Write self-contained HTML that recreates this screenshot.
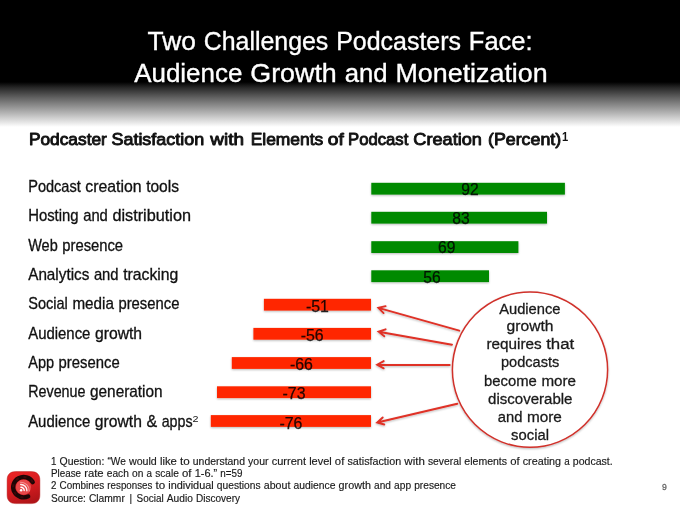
<!DOCTYPE html>
<html lang="en"><head><meta charset="utf-8"><title>Two Challenges Podcasters Face</title>
<style>html,body{margin:0;padding:0;background:#fff;overflow:hidden}svg{display:block}text{font-family:"Liberation Sans", "DejaVu Sans", sans-serif}</style>
</head><body>
<svg width="680" height="510" viewBox="0 0 680 510">
<defs>
<linearGradient id="hdr" x1="0" y1="0" x2="0" y2="1"><stop offset="0" stop-color="#000"/><stop offset="0.12" stop-color="#262626"/><stop offset="0.35" stop-color="#626262"/><stop offset="0.6" stop-color="#9e9e9e"/><stop offset="1" stop-color="#fff"/></linearGradient>
<linearGradient id="ico" x1="0.2" y1="0" x2="0.6" y2="1"><stop offset="0" stop-color="#ea2426"/><stop offset="0.55" stop-color="#d41c20"/><stop offset="1" stop-color="#b01418"/></linearGradient>
<filter id="sh" x="-5%" y="-30%" width="110%" height="180%"><feGaussianBlur in="SourceAlpha" stdDeviation="0.8"/><feOffset dx="0" dy="1"/><feComponentTransfer><feFuncA type="linear" slope="0.28"/></feComponentTransfer><feMerge><feMergeNode/><feMergeNode in="SourceGraphic"/></feMerge></filter>
</defs>
<rect x="0" y="0" width="680" height="510" fill="#fff"/>
<rect x="0" y="0" width="680" height="83" fill="#000"/>
<rect x="0" y="82" width="680" height="45" fill="url(#hdr)"/>
<text x="147.6" y="50.3" font-size="25.6" fill="#fff" stroke="#fff" stroke-width="0.35"><tspan x="147.60" textLength="48.32" lengthAdjust="spacingAndGlyphs">Two</tspan> <tspan x="203.73" textLength="124.61" lengthAdjust="spacingAndGlyphs">Challenges</tspan> <tspan x="336.16" textLength="124.87" lengthAdjust="spacingAndGlyphs">Podcasters</tspan> <tspan x="468.84" textLength="63.76" lengthAdjust="spacingAndGlyphs">Face:</tspan></text>
<text x="134.2" y="82" font-size="25.6" fill="#fff" stroke="#fff" stroke-width="0.35"><tspan x="134.20" textLength="108.15" lengthAdjust="spacingAndGlyphs">Audience</tspan> <tspan x="250.27" textLength="86.54" lengthAdjust="spacingAndGlyphs">Growth</tspan> <tspan x="344.74" textLength="42.85" lengthAdjust="spacingAndGlyphs">and</tspan> <tspan x="395.51" textLength="152.19" lengthAdjust="spacingAndGlyphs">Monetization</tspan></text>
<text y="145.0" font-size="16.8" fill="#111" stroke="#111" stroke-width="0.9" stroke-linejoin="round"><tspan x="28.90" textLength="78.00" lengthAdjust="spacingAndGlyphs">Podcaster</tspan> <tspan x="111.50" textLength="92.60" lengthAdjust="spacingAndGlyphs">Satisfaction</tspan> <tspan x="210.30" textLength="33.70" lengthAdjust="spacingAndGlyphs">with</tspan> <tspan x="250.70" textLength="72.60" lengthAdjust="spacingAndGlyphs">Elements</tspan> <tspan x="327.80" textLength="16.00" lengthAdjust="spacingAndGlyphs">of</tspan> <tspan x="348.00" textLength="60.30" lengthAdjust="spacingAndGlyphs">Podcast</tspan> <tspan x="413.30" textLength="68.60" lengthAdjust="spacingAndGlyphs">Creation</tspan> <tspan x="488.00" textLength="73.20" lengthAdjust="spacingAndGlyphs">(Percent)</tspan></text>
<text x="561.9" y="141.2" font-size="12.6" fill="#111" font-weight="bold" textLength="6.2" lengthAdjust="spacingAndGlyphs">1</text>
<text x="28.2" y="191.9" font-size="15.7" fill="#111" stroke="#111" stroke-width="0.3"><tspan x="28.20" textLength="52.57" lengthAdjust="spacingAndGlyphs">Podcast</tspan> <tspan x="85.32" textLength="56.28" lengthAdjust="spacingAndGlyphs">creation</tspan> <tspan x="146.15" textLength="32.85" lengthAdjust="spacingAndGlyphs">tools</tspan></text>
<rect x="371.3" y="182.80" width="193.6" height="11.8" fill="#008a00" filter="url(#sh)"/>
<text x="469.9" y="195.0" font-size="16.4" fill="#000" text-anchor="middle" textLength="17.4" lengthAdjust="spacingAndGlyphs" fill-opacity="0.85" stroke="#000" stroke-opacity="0.8" stroke-width="0.25">92</text>
<text x="28.2" y="221.25" font-size="15.7" fill="#111" stroke="#111" stroke-width="0.3"><tspan x="28.20" textLength="50.41" lengthAdjust="spacingAndGlyphs">Hosting</tspan> <tspan x="83.17" textLength="24.68" lengthAdjust="spacingAndGlyphs">and</tspan> <tspan x="112.41" textLength="78.59" lengthAdjust="spacingAndGlyphs">distribution</tspan></text>
<rect x="371.3" y="211.80" width="175.7" height="11.8" fill="#008a00" filter="url(#sh)"/>
<text x="461.0" y="224.19" font-size="16.4" fill="#000" text-anchor="middle" textLength="17.4" lengthAdjust="spacingAndGlyphs" fill-opacity="0.85" stroke="#000" stroke-opacity="0.8" stroke-width="0.25">83</text>
<text x="28.2" y="250.6" font-size="15.7" fill="#111" stroke="#111" stroke-width="0.3"><tspan x="28.20" textLength="29.52" lengthAdjust="spacingAndGlyphs">Web</tspan> <tspan x="62.27" textLength="60.83" lengthAdjust="spacingAndGlyphs">presence</tspan></text>
<rect x="371.3" y="241.20" width="147.1" height="11.8" fill="#008a00" filter="url(#sh)"/>
<text x="446.7" y="253.38" font-size="16.4" fill="#000" text-anchor="middle" textLength="17.4" lengthAdjust="spacingAndGlyphs" fill-opacity="0.85" stroke="#000" stroke-opacity="0.8" stroke-width="0.25">69</text>
<text x="28.2" y="279.95" font-size="15.7" fill="#111" stroke="#111" stroke-width="0.3"><tspan x="28.20" textLength="61.13" lengthAdjust="spacingAndGlyphs">Analytics</tspan> <tspan x="93.90" textLength="24.69" lengthAdjust="spacingAndGlyphs">and</tspan> <tspan x="123.16" textLength="55.24" lengthAdjust="spacingAndGlyphs">tracking</tspan></text>
<rect x="371.3" y="270.30" width="117.7" height="11.8" fill="#008a00" filter="url(#sh)"/>
<text x="432.0" y="282.57" font-size="16.4" fill="#000" text-anchor="middle" textLength="17.4" lengthAdjust="spacingAndGlyphs" fill-opacity="0.85" stroke="#000" stroke-opacity="0.8" stroke-width="0.25">56</text>
<text x="28.2" y="309.3" font-size="15.7" fill="#111" stroke="#111" stroke-width="0.3"><tspan x="28.20" textLength="39.63" lengthAdjust="spacingAndGlyphs">Social</tspan> <tspan x="72.38" textLength="41.50" lengthAdjust="spacingAndGlyphs">media</tspan> <tspan x="118.44" textLength="60.96" lengthAdjust="spacingAndGlyphs">presence</tspan></text>
<rect x="263.9" y="298.80" width="107.1" height="11.8" fill="#ff2800" filter="url(#sh)"/>
<text x="317.4" y="311.76" font-size="16.4" fill="#000" text-anchor="middle" textLength="23.0" lengthAdjust="spacingAndGlyphs" fill-opacity="0.85" stroke="#000" stroke-opacity="0.8" stroke-width="0.25">-51</text>
<text x="28.2" y="338.65" font-size="15.7" fill="#111" stroke="#111" stroke-width="0.3"><tspan x="28.20" textLength="62.20" lengthAdjust="spacingAndGlyphs">Audience</tspan> <tspan x="94.96" textLength="47.14" lengthAdjust="spacingAndGlyphs">growth</tspan></text>
<rect x="253.4" y="327.90" width="117.6" height="11.8" fill="#ff2800" filter="url(#sh)"/>
<text x="312.2" y="340.95" font-size="16.4" fill="#000" text-anchor="middle" textLength="23.0" lengthAdjust="spacingAndGlyphs" fill-opacity="0.85" stroke="#000" stroke-opacity="0.8" stroke-width="0.25">-56</text>
<text x="28.2" y="368.0" font-size="15.7" fill="#111" stroke="#111" stroke-width="0.3"><tspan x="28.20" textLength="25.85" lengthAdjust="spacingAndGlyphs">App</tspan> <tspan x="58.61" textLength="61.09" lengthAdjust="spacingAndGlyphs">presence</tspan></text>
<rect x="231.8" y="357.10" width="139.2" height="11.8" fill="#ff2800" filter="url(#sh)"/>
<text x="301.4" y="370.14" font-size="16.4" fill="#000" text-anchor="middle" textLength="23.0" lengthAdjust="spacingAndGlyphs" fill-opacity="0.85" stroke="#000" stroke-opacity="0.8" stroke-width="0.25">-66</text>
<text x="28.2" y="397.35" font-size="15.7" fill="#111" stroke="#111" stroke-width="0.3"><tspan x="28.20" textLength="57.27" lengthAdjust="spacingAndGlyphs">Revenue</tspan> <tspan x="90.00" textLength="72.60" lengthAdjust="spacingAndGlyphs">generation</tspan></text>
<rect x="217.0" y="386.30" width="154.0" height="11.8" fill="#ff2800" filter="url(#sh)"/>
<text x="294.0" y="399.33" font-size="16.4" fill="#000" text-anchor="middle" textLength="23.0" lengthAdjust="spacingAndGlyphs" fill-opacity="0.85" stroke="#000" stroke-opacity="0.8" stroke-width="0.25">-73</text>
<text x="28.2" y="426.7" font-size="15.7" fill="#111" stroke="#111" stroke-width="0.3"><tspan x="28.20" textLength="62.11" lengthAdjust="spacingAndGlyphs">Audience</tspan> <tspan x="94.86" textLength="47.07" lengthAdjust="spacingAndGlyphs">growth</tspan> <tspan x="146.48" textLength="10.67" lengthAdjust="spacingAndGlyphs">&amp;</tspan> <tspan x="161.70" textLength="30.90" lengthAdjust="spacingAndGlyphs">apps</tspan></text>
<rect x="210.8" y="415.10" width="160.2" height="11.8" fill="#ff2800" filter="url(#sh)"/>
<text x="290.9" y="428.52" font-size="16.4" fill="#000" text-anchor="middle" textLength="23.0" lengthAdjust="spacingAndGlyphs" fill-opacity="0.85" stroke="#000" stroke-opacity="0.8" stroke-width="0.25">-76</text>
<text x="192.6" y="422.3" font-size="9.5" fill="#111" textLength="6" lengthAdjust="spacingAndGlyphs">2</text>
<circle cx="530" cy="369.7" r="77.6" fill="#fff" stroke="#d0302a" stroke-width="1.5" filter="url(#sh)"/>
<text x="499.2" y="313.5" font-size="15.5" fill="#1a1a1a" textLength="61.3" lengthAdjust="spacingAndGlyphs" stroke="#1a1a1a" stroke-width="0.3">Audience</text>
<text x="506.6" y="331.2" font-size="15.5" fill="#1a1a1a" textLength="46.9" lengthAdjust="spacingAndGlyphs" stroke="#1a1a1a" stroke-width="0.3">growth</text>
<text x="486.4" y="349.1" font-size="15.5" fill="#1a1a1a" stroke="#1a1a1a" stroke-width="0.3"><tspan x="486.40" textLength="55.24" lengthAdjust="spacingAndGlyphs">requires</tspan> <tspan x="546.19" textLength="28.11" lengthAdjust="spacingAndGlyphs">that</tspan></text>
<text x="501.0" y="367" font-size="15.5" fill="#1a1a1a" textLength="58.3" lengthAdjust="spacingAndGlyphs" stroke="#1a1a1a" stroke-width="0.3">podcasts</text>
<text x="484.1" y="385.8" font-size="15.5" fill="#1a1a1a" stroke="#1a1a1a" stroke-width="0.3"><tspan x="484.10" textLength="52.77" lengthAdjust="spacingAndGlyphs">become</tspan> <tspan x="541.40" textLength="34.60" lengthAdjust="spacingAndGlyphs">more</tspan></text>
<text x="488.1" y="404.0" font-size="15.5" fill="#1a1a1a" textLength="84.4" lengthAdjust="spacingAndGlyphs" stroke="#1a1a1a" stroke-width="0.3">discoverable</text>
<text x="497.8" y="421.8" font-size="15.5" fill="#1a1a1a" stroke="#1a1a1a" stroke-width="0.3"><tspan x="497.80" textLength="24.67" lengthAdjust="spacingAndGlyphs">and</tspan> <tspan x="527.03" textLength="34.87" lengthAdjust="spacingAndGlyphs">more</tspan></text>
<text x="511.1" y="439.5" font-size="15.5" fill="#1a1a1a" textLength="37.9" lengthAdjust="spacingAndGlyphs" stroke="#1a1a1a" stroke-width="0.3">social</text>
<g stroke="#df3026" stroke-width="1.9" fill="none" stroke-linecap="round" stroke-linejoin="miter" filter="url(#sh)">
<path d="M459.3 330.7 L378.4 307.9 M383.6 313.1 L378.4 307.9 L385.6 306.2"/>
<path d="M452.0 344.7 L378.6 331.7 M384.3 336.3 L378.6 331.7 L385.6 329.3"/>
<path d="M449.7 365.0 L377.2 364.7 M383.7 368.3 L377.2 364.7 L383.7 361.1"/>
<path d="M457.3 403.8 L377.2 422.5 M384.3 424.5 L377.2 422.5 L382.7 417.5"/>
</g>
<text x="51" y="464.8" font-size="10" fill="#1a1a1a" stroke="#1a1a1a" stroke-width="0.15"><tspan x="51.00" textLength="5.45" lengthAdjust="spacingAndGlyphs">1</tspan> <tspan x="59.58" textLength="44.75" lengthAdjust="spacingAndGlyphs">Question:</tspan> <tspan x="107.47" textLength="18.35" lengthAdjust="spacingAndGlyphs">“We</tspan> <tspan x="128.94" textLength="27.86" lengthAdjust="spacingAndGlyphs">would</tspan> <tspan x="159.94" textLength="16.94" lengthAdjust="spacingAndGlyphs">like</tspan> <tspan x="180.01" textLength="9.70" lengthAdjust="spacingAndGlyphs">to</tspan> <tspan x="192.84" textLength="52.13" lengthAdjust="spacingAndGlyphs">understand</tspan> <tspan x="248.10" textLength="20.44" lengthAdjust="spacingAndGlyphs">your</tspan> <tspan x="271.67" textLength="34.38" lengthAdjust="spacingAndGlyphs">current</tspan> <tspan x="309.19" textLength="22.57" lengthAdjust="spacingAndGlyphs">level</tspan> <tspan x="334.89" textLength="9.43" lengthAdjust="spacingAndGlyphs">of</tspan> <tspan x="347.45" textLength="53.77" lengthAdjust="spacingAndGlyphs">satisfaction</tspan> <tspan x="404.35" textLength="20.50" lengthAdjust="spacingAndGlyphs">with</tspan> <tspan x="427.98" textLength="33.22" lengthAdjust="spacingAndGlyphs">several</tspan> <tspan x="464.33" textLength="42.72" lengthAdjust="spacingAndGlyphs">elements</tspan> <tspan x="510.18" textLength="9.43" lengthAdjust="spacingAndGlyphs">of</tspan> <tspan x="522.74" textLength="38.31" lengthAdjust="spacingAndGlyphs">creating</tspan> <tspan x="564.18" textLength="5.46" lengthAdjust="spacingAndGlyphs">a</tspan> <tspan x="572.77" textLength="39.93" lengthAdjust="spacingAndGlyphs">podcast.</tspan></text>
<text x="51" y="476.9" font-size="10" fill="#1a1a1a" stroke="#1a1a1a" stroke-width="0.15"><tspan x="51.00" textLength="30.07" lengthAdjust="spacingAndGlyphs">Please</tspan> <tspan x="84.23" textLength="19.42" lengthAdjust="spacingAndGlyphs">rate</tspan> <tspan x="106.79" textLength="22.10" lengthAdjust="spacingAndGlyphs">each</tspan> <tspan x="132.04" textLength="11.34" lengthAdjust="spacingAndGlyphs">on</tspan> <tspan x="146.53" textLength="5.50" lengthAdjust="spacingAndGlyphs">a</tspan> <tspan x="155.18" textLength="23.71" lengthAdjust="spacingAndGlyphs">scale</tspan> <tspan x="182.04" textLength="9.49" lengthAdjust="spacingAndGlyphs">of</tspan> <tspan x="194.68" textLength="22.50" lengthAdjust="spacingAndGlyphs">1-6.”</tspan> <tspan x="220.33" textLength="22.17" lengthAdjust="spacingAndGlyphs">n=59</tspan></text>
<text x="51" y="489.3" font-size="10" fill="#1a1a1a" stroke="#1a1a1a" stroke-width="0.15"><tspan x="51.00" textLength="5.44" lengthAdjust="spacingAndGlyphs">2</tspan> <tspan x="59.56" textLength="44.67" lengthAdjust="spacingAndGlyphs">Combines</tspan> <tspan x="107.36" textLength="44.99" lengthAdjust="spacingAndGlyphs">responses</tspan> <tspan x="155.48" textLength="9.69" lengthAdjust="spacingAndGlyphs">to</tspan> <tspan x="168.29" textLength="45.38" lengthAdjust="spacingAndGlyphs">individual</tspan> <tspan x="216.80" textLength="43.83" lengthAdjust="spacingAndGlyphs">questions</tspan> <tspan x="263.75" textLength="26.59" lengthAdjust="spacingAndGlyphs">about</tspan> <tspan x="293.46" textLength="41.98" lengthAdjust="spacingAndGlyphs">audience</tspan> <tspan x="338.57" textLength="32.33" lengthAdjust="spacingAndGlyphs">growth</tspan> <tspan x="374.03" textLength="16.90" lengthAdjust="spacingAndGlyphs">and</tspan> <tspan x="394.05" textLength="17.02" lengthAdjust="spacingAndGlyphs">app</tspan> <tspan x="414.19" textLength="41.81" lengthAdjust="spacingAndGlyphs">presence</tspan></text>
<text x="51" y="501.7" font-size="10" fill="#1a1a1a" stroke="#1a1a1a" stroke-width="0.15"><tspan x="51.00" textLength="34.81" lengthAdjust="spacingAndGlyphs">Source:</tspan> <tspan x="88.93" textLength="35.92" lengthAdjust="spacingAndGlyphs">Clammr</tspan> <tspan x="129.39">|</tspan> <tspan x="136.52" textLength="27.13" lengthAdjust="spacingAndGlyphs">Social</tspan> <tspan x="166.77" textLength="26.06" lengthAdjust="spacingAndGlyphs">Audio</tspan> <tspan x="195.94" textLength="44.06" lengthAdjust="spacingAndGlyphs">Discovery</tspan></text>
<text x="662.1" y="490.1" font-size="8.5" fill="#666" textLength="4.8" lengthAdjust="spacingAndGlyphs" stroke="#666" stroke-width="0.3">9</text>
<g>
<path d="M7.10 480.10 C7.10 474.58 10.07 471.60 15.60 471.60 L31.40 471.60 C36.92 471.60 39.90 474.58 39.90 480.10 L39.90 495.10 C39.90 500.62 36.92 503.60 31.40 503.60 L15.60 503.60 C10.07 503.60 7.10 500.62 7.10 495.10 Z" fill="url(#ico)" stroke="#b01a1a" stroke-opacity="0.55" stroke-width="0.8"/>
<circle cx="23.5" cy="487.1" r="7.6" fill="#e8484a"/>
<path d="M32.75 482.15 A10.5 10.2 0 1 0 28.19 496.41" fill="none" stroke="#1c0606" stroke-width="4.3" stroke-linecap="round"/>
<path d="M32.75 482.15 A10.5 10.2 0 1 0 28.19 496.41" fill="none" stroke="#6a0c0e" stroke-opacity="0.4" stroke-width="2" stroke-dasharray="3 5" stroke-linecap="butt"/>
<circle cx="21.1" cy="490.3" r="1.25" fill="#fff"/>
<path d="M20.9 487.2 A3.2 3.2 0 0 1 24.2 490.5" fill="none" stroke="#fff" stroke-width="1.4" stroke-linecap="round"/>
<path d="M20.7 484.5 A6 6 0 0 1 26.9 490.7" fill="none" stroke="#fff" stroke-width="1.4" stroke-linecap="round" opacity="0.92"/>
<path d="M20.5 482.2 A8.4 8.4 0 0 1 29.2 490.9" fill="none" stroke="#ffd0d0" stroke-width="1.1" stroke-linecap="round" opacity="0.6"/>
</g>
</svg>
</body></html>
